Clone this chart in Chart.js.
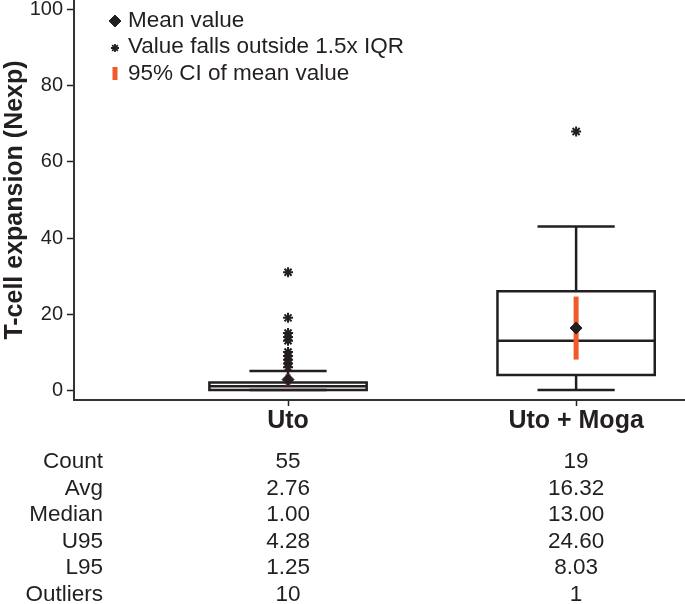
<!DOCTYPE html>
<html>
<head>
<meta charset="utf-8">
<script src="https://cdn.jsdelivr.net/npm/chart.js@4"></script>
<style>
  html, body { margin: 0; padding: 0; background: #fff; }
  #wrap { width: 685px; height: 604px; }
</style>
</head>
<body>
<div id="wrap"><canvas id="chart"></canvas></div>
<script>
// groups on the x axis
const groups = ['Uto', 'Uto + Moga'];

// box plot numbers
const counts = [55, 19];
const q1 = [0, 4];
const medians = [1, 13];
const q3 = [2, 26];
const whiskerLow = [0, 0];
const whiskerHigh = [5, 43];
const means = [2.76, 16.32];
const ciLow = [1.25, 8.03];
const ciHigh = [4.28, 24.60];
const outliersUto = [31, 19, 15, 14, 13, 10, 9, 8, 7, 6];
const outliersMoga = [68];
const outliers = [outliersUto, outliersMoga];

const yTicks = [0, 20, 40, 60, 80, 100];
const statLabels = ['Count', 'Avg', 'Median', 'U95', 'L95', 'Outliers'];

const FONT = '"Liberation Sans", Arial, Helvetica, sans-serif';
const INK = '#231f20';
const ORANGE = '#f15a29';
const BOX_HALF = 0.273;   // half box width, in x units
const CAP_HALF = 0.134;   // half whisker cap width

const datasets = [];

// a plain polyline drawn by the scatter controller
function seg(points, color, width, order) {
  datasets.push({
    data: points, showLine: true, borderColor: color, borderWidth: width,
    pointRadius: 0, pointHoverRadius: 0, fill: false, tension: 0,
    borderCapStyle: 'butt', borderJoinStyle: 'miter', order
  });
}

groups.forEach((g, i) => {
  // box
  seg([{x: i, y: q1[i]}, {x: i - BOX_HALF, y: q1[i]}, {x: i - BOX_HALF, y: q3[i]},
       {x: i + BOX_HALF, y: q3[i]}, {x: i + BOX_HALF, y: q1[i]}, {x: i, y: q1[i]}], INK, 2.5, 5);
  // median
  seg([{x: i - BOX_HALF, y: medians[i]}, {x: i + BOX_HALF, y: medians[i]}], INK, 2.5, 5);
  // whiskers
  seg([{x: i, y: q3[i]}, {x: i, y: whiskerHigh[i]}], INK, 2.5, 4);
  seg([{x: i, y: whiskerLow[i]}, {x: i, y: q1[i]}], INK, 2.5, 4);
  // caps
  seg([{x: i - CAP_HALF, y: whiskerHigh[i]}, {x: i + CAP_HALF, y: whiskerHigh[i]}], INK, 2.5, 4);
  seg([{x: i - CAP_HALF, y: whiskerLow[i]}, {x: i + CAP_HALF, y: whiskerLow[i]}], INK, 2.5, 4);
  // 95% CI of the mean
  seg([{x: i, y: ciLow[i]}, {x: i, y: ciHigh[i]}], ORANGE, 5, 1);
});

// mean diamonds
datasets.push({
  data: means.map((m, i) => ({x: i, y: m})),
  pointStyle: 'rectRot', pointRadius: 6, pointHoverRadius: 6,
  backgroundColor: INK, borderColor: INK, borderWidth: 1, order: 0
});

// outliers as asterisks
datasets.push({
  data: outliers.flatMap((arr, i) => arr.map(v => ({x: i, y: v}))),
  pointStyle: 'star', pointRadius: 5, pointHoverRadius: 5,
  borderColor: INK, backgroundColor: INK, borderWidth: 2, order: 0
});

// legend in the top left corner and the stats table below the axis
const extras = {
  id: 'extras',
  afterDraw(chart) {
    const ctx = chart.ctx;
    const xs = chart.scales.x;
    ctx.save();
    ctx.fillStyle = INK;
    ctx.strokeStyle = INK;
    ctx.textBaseline = 'middle';
    ctx.font = '22.5px ' + FONT;

    const lx = 115, tx = 128;
    ctx.lineWidth = 1;
    Chart.helpers.drawPoint(ctx, {pointStyle: 'rectRot', radius: 6, borderWidth: 1}, lx, 21);
    ctx.fillText('Mean value', tx, 21);
    ctx.lineWidth = 1.8;
    Chart.helpers.drawPoint(ctx, {pointStyle: 'star', radius: 4, borderWidth: 1.8}, lx, 48);
    ctx.fillText('Value falls outside 1.5x IQR', tx, 47);
    ctx.fillStyle = ORANGE;
    ctx.fillRect(lx - 2.5, 67, 5, 13);
    ctx.fillStyle = INK;
    ctx.fillText('95% CI of mean value', tx, 73.5);

    const rows = groups.map((g, i) => [
      String(counts[i]), means[i].toFixed(2), medians[i].toFixed(2),
      ciHigh[i].toFixed(2), ciLow[i].toFixed(2), String(outliers[i].length)
    ]);
    statLabels.forEach((lab, r) => {
      const y = 462 + r * 26.5;
      ctx.textAlign = 'right';
      ctx.fillText(lab, 103, y);
      ctx.textAlign = 'center';
      groups.forEach((g, i) => ctx.fillText(rows[i][r], xs.getPixelForValue(i), y));
    });
    ctx.restore();
  }
};

new Chart(document.getElementById('chart'), {
  type: 'scatter',
  data: { datasets },
  options: {
    responsive: true,
    maintainAspectRatio: false,
    animation: false,
    layout: { padding: 0, autoPadding: false },
    plugins: { legend: { display: false }, tooltip: { enabled: false } },
    scales: {
      x: {
        type: 'linear', min: -0.743, max: 1.378,
        afterBuildTicks: s => { s.ticks = groups.map((g, i) => ({ value: i })); },
        afterFit: s => { s.height = 204; s.paddingLeft = 0; s.paddingRight = 0; },
        ticks: {
          callback: v => groups[v], autoSkip: false, maxRotation: 0, padding: 0,
          color: INK, font: { family: FONT, size: 25, weight: 'bold' }
        },
        grid: { drawOnChartArea: false, drawTicks: true, tickLength: 6, tickColor: INK, tickWidth: 1.5 },
        border: { display: true, color: '#333', width: 2 }
      },
      y: {
        type: 'linear', min: -2.6, max: 102.6,
        afterBuildTicks: s => { s.ticks = yTicks.map(v => ({ value: v })); },
        afterFit: s => { s.width = 74; s.paddingTop = 0; s.paddingBottom = 0; },
        ticks: { padding: 4, color: INK, font: { family: FONT, size: 20 } },
        grid: { drawOnChartArea: false, drawTicks: true, tickLength: 7, tickColor: INK, tickWidth: 1.5 },
        border: { display: true, color: '#333', width: 2 },
        title: {
          display: true, text: 'T-cell expansion (Nexp)', color: INK,
          padding: { top: 0, bottom: 0 },
          font: { family: FONT, size: 25, weight: 'bold' }
        }
      }
    }
  },
  plugins: [extras]
});
</script>
</body>
</html>
